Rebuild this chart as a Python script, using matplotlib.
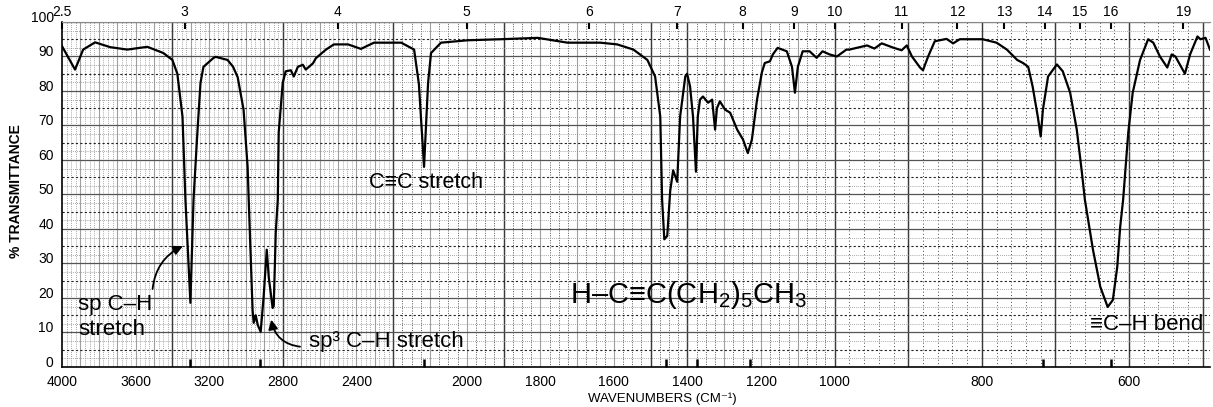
import matplotlib.pyplot as plt
import matplotlib.transforms as mtransforms
import numpy as np

plt.rcParams['font.family'] = ['Liberation Sans', 'DejaVu Sans']
plt.rcParams['mathtext.fontset'] = 'custom'
plt.rcParams['mathtext.rm'] = 'Liberation Sans'

# IR spectrum of 1-octyne (cm-1, % transmittance)
wavenumber = [4000, 3929, 3885, 3820, 3738, 3645, 3536, 3449, 3400, 3373,
              3345, 3335, 3329, 3302, 3285, 3264, 3247, 3231, 3176, 3165,
              3100, 3070, 3045, 3013, 2991, 2985, 2964, 2958, 2947, 2936, 2920,
              2904, 2887, 2876, 2855, 2849, 2838, 2827, 2822, 2800, 2784,
              2756, 2740, 2718, 2691, 2675, 2636, 2620, 2565, 2522, 2445,
              2375, 2336, 2304, 2178, 2143, 2130, 2116, 2105, 2097, 2070,
              1997, 1907, 1807, 1772, 1726, 1637, 1591, 1547, 1509, 1488,
              1474, 1469, 1463, 1455, 1447, 1439, 1428, 1420, 1406, 1401,
              1393, 1385, 1377, 1372, 1366, 1358, 1344, 1333, 1325, 1320,
              1312, 1298, 1284, 1265, 1249, 1236, 1225, 1211, 1198, 1190,
              1176, 1168, 1155, 1130, 1116, 1108, 1100, 1087, 1068, 1049,
              1033, 1014, 997, 984, 980, 956, 946, 936, 921, 909,
              902, 895, 884, 880, 873, 864, 848, 839, 830, 799,
              780, 766, 752, 744, 737, 731, 724, 720, 717, 710,
              698, 690, 680, 671, 664, 660, 649, 639, 629, 622,
              616, 612, 608, 601, 595, 585, 574, 567, 558, 548,
              542, 537, 524, 517, 507, 503, 496, 490]
transmittance = [93, 86.2, 92, 94.1, 92.7, 92, 92.8, 91, 89, 85,
                 72.6, 58, 48.5, 18.6, 48.5, 68, 82.4, 87, 89.6, 89.9,
                 89, 87, 84, 74.6, 58, 48.5, 16.5, 12.8, 15, 12.2, 10.2,
                 20.3, 34, 26, 17.1, 17.7, 39, 48.5, 68, 82.4, 85.7,
                 86, 84.2, 87, 87.6, 86.2, 88, 89.5, 92, 93.5, 93.5,
                 92.2, 93.2, 94, 94, 92, 82, 58, 82.4, 91, 94,
                 94.7, 95, 95.4, 94.8, 94, 94, 93.5, 92, 89, 84.2,
                 72.6, 48.5, 37, 38, 51, 57, 53.7, 72.6, 84.2, 85,
                 81.3, 72.6, 56.6, 72.6, 77.5, 78.4, 76.6, 77.5, 68.8, 75,
                 77, 74.6, 73.7, 68.8, 65.9, 62, 65.9, 77.5, 85.3, 88.1,
                 88.6, 90.6, 92.5, 91.5, 87, 79.5, 87, 91.5, 91.5, 89.6,
                 91.5, 90.6, 90, 92, 92, 93.2, 92.3, 93.8, 92.6, 91.8,
                 93.2, 90, 86.8, 86, 90, 94.4, 95.1, 93.8, 95, 95,
                 94, 92, 89, 88.1, 87, 81.3, 72.6, 66.8, 74.6, 84.2,
                 87.7, 85.7, 79.5, 68.8, 56.3, 48.5, 34, 23.2, 17.4, 19.4,
                 29, 40.6, 48.5, 68, 79.5, 89, 95, 94, 90, 86.8,
                 90.6, 90, 85, 90.6, 95.8, 95, 95.4, 92]

bottom_ticks = [4000, 3600, 3200, 2800, 2400, 2000, 1800, 1600, 1400, 1200, 1000, 800, 600]
micron_ticks = [2.5, 3, 4, 5, 6, 7, 8, 9, 10, 11, 12, 13, 14, 15, 16, 19]
micron_labels = ['2.5', '3', '4', '5', '6', '7', '8', '9', '10', '11', '12', '13', '14', '15', '16', '19']
peak_marks = [3302, 2925, 2116, 1458, 1374, 1230, 717, 625]
y_ticks = list(range(0, 101, 10))

# chart paper: 4000-2200 at 1x, 2200-1000 at 2x, below 1000 at 4x
W_BREAK = [-2000, 490, 1000, 2200, 4000, 12000]
U_BREAK = [-9960, 0, 2040, 4440, 6240, 14240]


def fwd(w):
    return np.interp(w, W_BREAK, U_BREAK)


def inv(u):
    return np.interp(u, U_BREAK, W_BREAK)


fig = plt.figure(figsize=(12.13, 4.07), dpi=100)
ax = fig.add_axes([0.0511, 0.0983, 0.9464, 0.8477])
ax.set_xscale('function', functions=(fwd, inv))
ax.set_xlim(4000, 490)
ax.set_ylim(0, 100)

# graph paper grid
for w in np.arange(2225, 4000, 25):
    if w % 100:
        ax.axvline(w, color='#8a8a8a', lw=0.6, ls=(0, (1, 1.5)), zorder=1)
for w in np.arange(1025, 2200, 25):
    if w % 100:
        ax.axvline(w, color='#555555', lw=0.7, ls=(0, (1, 1.5)), zorder=1)
for w in np.arange(500, 1000, 20):
    if w % 100:
        ax.axvline(w, color='#444444', lw=0.7, ls=(0, (1, 2.5)), zorder=1)
for w in np.arange(500, 4000, 100):
    ax.axvline(w, color='#a0a0a0', lw=0.8, zorder=1)
for w in [3400, 2800, 2200, 1900, 1500, 1400, 1000, 900, 800, 700, 600, 500]:
    ax.axvline(w, color='#3a3a3a', lw=1.0, zorder=1)
for t in np.arange(2.5, 100, 5):
    ax.axhline(t, color='#8a8a8a', lw=0.6, ls=(0, (1, 1.5)), zorder=1)
for t in np.arange(5, 100, 10):
    ax.axhline(t, color='#222222', lw=0.8, ls=(0, (2, 2)), zorder=1)
for t in np.arange(10, 101, 10):
    ax.axhline(t, color='#555555', lw=0.9, zorder=1)

ax.plot(wavenumber, transmittance, color='black', lw=1.6, zorder=3)

ax.set_xticks(bottom_ticks)
ax.set_xticklabels([str(v) for v in bottom_ticks], fontsize=10)
ax.set_xticks(peak_marks, minor=True)
ax.tick_params(axis='x', which='major', length=0, pad=6)
ax.tick_params(axis='x', which='minor', direction='in', length=6, width=1.8, color='black')
ax.set_yticks(y_ticks)
ax.set_yticklabels([str(v) for v in y_ticks], fontsize=10)
ax.tick_params(axis='y', length=0, pad=6)
# the printed percent labels sit a little above their lines
lift = mtransforms.ScaledTranslation(0, 4 / 72, fig.dpi_scale_trans)
for lbl in ax.get_yticklabels():
    lbl.set_transform(lbl.get_transform() + lift)
ax.set_xlabel('WAVENUMBERS (CM⁻¹)', fontsize=9.5)
ax.xaxis.set_label_coords(0.5226, -0.075)
ax.set_ylabel('% TRANSMITTANCE', fontsize=10, fontweight='bold')
ax.yaxis.set_label_coords(-0.034, 0.51)

for side in ['top', 'right']:
    ax.spines[side].set_visible(False)
ax.spines['left'].set_linewidth(1.2)
ax.spines['bottom'].set_linewidth(1.2)

# micron scale along the top
top = ax.twiny()
top.set_xscale('function', functions=(fwd, inv))
top.set_xlim(ax.get_xlim())
top.set_xticks([10000 / m for m in micron_ticks])
top.set_xticklabels(micron_labels, fontsize=10)
top.tick_params(axis='x', direction='in', length=5, width=1.5, pad=2)
for side in ['left', 'right', 'bottom']:
    top.spines[side].set_visible(False)
top.spines['top'].set_color('#888888')

# annotations
ax.text(2331, 53.4, 'C≡C stretch', fontsize=15.5, ha='left', va='center', zorder=4)
ax.text(3913, 14.5, 'sp C–H\nstretch', fontsize=16, ha='left', va='center',
        linespacing=1.2, zorder=4)
ax.text(2658, 7.3, 'sp³ C–H stretch', fontsize=16, ha='left', va='center', zorder=4)
ax.text(1718, 20.9, r'H–C≡C(CH$\mathregular{_2}$)$\mathregular{_5}$CH$\mathregular{_3}$',
        fontsize=21, ha='left', va='center', zorder=4)
ax.text(653, 12.2, '≡C–H bend', fontsize=16, ha='left', va='center', zorder=4)

ax.annotate('', xy=(3329, 35.4), xytext=(3509, 21.8),
            arrowprops=dict(arrowstyle='-|>', color='black', lw=1.3,
                            connectionstyle='arc3,rad=-0.3', mutation_scale=14))
ax.annotate('', xy=(2865, 14.5), xytext=(2691, 5.8),
            arrowprops=dict(arrowstyle='-|>', color='black', lw=1.3,
                            connectionstyle='arc3,rad=-0.4', mutation_scale=14))

fig.savefig('out.png', dpi=100)
